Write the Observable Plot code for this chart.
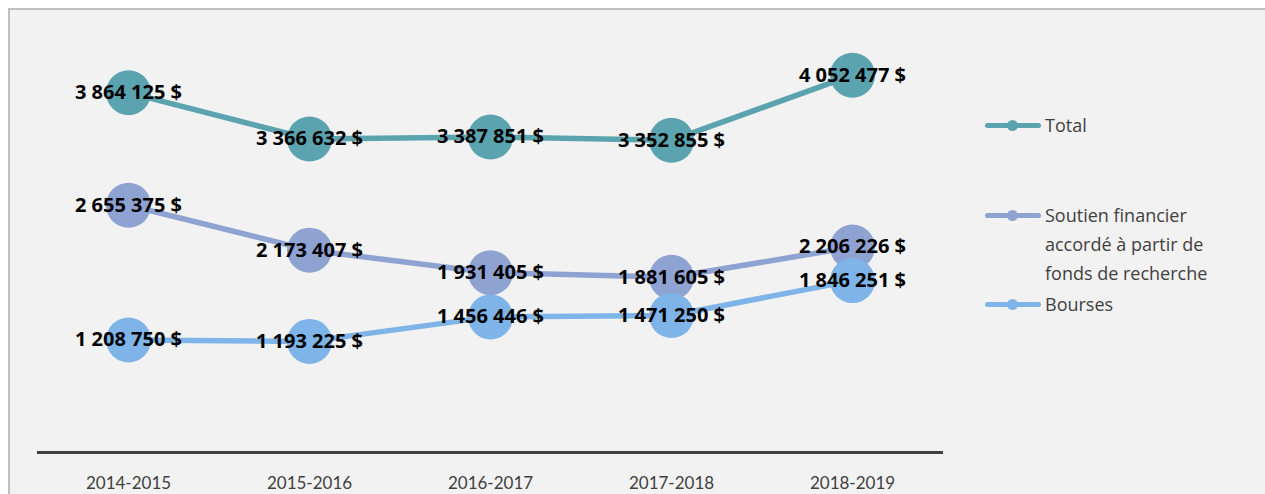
<!DOCTYPE html>
<html>
<head>
<meta charset="utf-8">
<script src="https://cdn.jsdelivr.net/npm/d3@7"></script>
<script src="https://cdn.jsdelivr.net/npm/@observablehq/plot@0.6"></script>
<style>
  html, body { margin: 0; padding: 0; background: #ffffff; width: 1265px; height: 494px; overflow: hidden; }
  #frame { position: absolute; left: 8px; top: 8px; width: 1300px; height: 520px; border-left: 2px solid #c0c0c0; border-top: 2px solid #c0c0c0; background: #f2f2f2; }
  #chart { position: absolute; left: 0; top: 0; }
  #legend { position: absolute; left: 0; top: 0; font-family: "Open Sans", Lato, sans-serif; font-size: 18px; color: #404040; }
  .item { position: absolute; left: 985px; }
  .swatch { position: absolute; left: 0; width: 56px; height: 5px; border-radius: 3px; }
  .swatch .dot { position: absolute; left: 22px; top: -3px; width: 11px; height: 11px; border-radius: 50%; }
  .label { position: absolute; left: 60px; width: 230px; line-height: 29px; white-space: nowrap; }
</style>
</head>
<body>
<div id="frame"></div>
<div id="chart"></div>
<div id="legend"></div>
<script>
const years = ["2014-2015", "2015-2016", "2016-2017", "2017-2018", "2018-2019"];
const seriesNames = ["Total", "Soutien financier accordé à partir de fonds de recherche", "Bourses"];
const legendLines = [["Total"], ["Soutien financier", "accordé à partir de", "fonds de recherche"], ["Bourses"]];
const totalValues = [3864125, 3366632, 3387851, 3352855, 4052477];
const soutienValues = [2655375, 2173407, 1931405, 1881605, 2206226];
const boursesValues = [1208750, 1193225, 1456446, 1471250, 1846251];
const colors = ["#5ba4af", "#8fa3d3", "#7eb4e8"];

const seriesValues = [totalValues, soutienValues, boursesValues];
const data = [];
seriesNames.forEach((s, i) => {
  years.forEach((y, j) => data.push({series: s, year: y, value: seriesValues[i][j]}));
});

const loc = d3.formatLocale({decimal: ",", thousands: "\u00a0", grouping: [3], currency: ["", "\u00a0$"]});
const fmt = v => loc.format(",")(v) + "\u00a0$";

const chart = Plot.plot({
  width: 1265,
  height: 494,
  marginLeft: 37,
  marginRight: 322,
  marginTop: 33,
  marginBottom: 42,
  style: {background: "transparent", fontFamily: "Lato, 'Open Sans', sans-serif"},
  x: {type: "point", domain: years, padding: 0.5, label: null},
  y: {domain: [0, 4500000], axis: null},
  color: {domain: seriesNames, range: colors},
  marks: [
    Plot.ruleY([0], {stroke: "#404040", strokeWidth: 3}),
    Plot.axisX({tickSize: 0, tickPadding: 24, fontSize: 17, fill: "#404040", label: null}),
    Plot.line(data, {x: "year", y: "value", z: "series", stroke: "series", strokeWidth: 5.5, strokeLinecap: "round"}),
    Plot.dot(data, {x: "year", y: "value", r: 22.5, fill: "series", stroke: "none"}),
    Plot.text(data, {x: "year", y: "value", text: d => fmt(d.value), fontFamily: "'Open Sans', Lato, sans-serif", fontSize: 20, fontWeight: "bold", fill: "#000000"})
  ]
});
document.getElementById("chart").appendChild(chart);

const legendTops = [111, 201, 290];
const legend = document.getElementById("legend");
legendLines.forEach((lines, i) => {
  const item = document.createElement("div");
  item.className = "item";
  item.style.top = legendTops[i] + "px";
  const sw = document.createElement("div");
  sw.className = "swatch";
  sw.style.top = "12px";
  sw.style.background = colors[i];
  const dot = document.createElement("div");
  dot.className = "dot";
  dot.style.background = colors[i];
  sw.appendChild(dot);
  item.appendChild(sw);
  const lab = document.createElement("div");
  lab.className = "label";
  lab.innerHTML = lines.join("<br>");
  item.appendChild(lab);
  legend.appendChild(item);
});
</script>
</body>
</html>
